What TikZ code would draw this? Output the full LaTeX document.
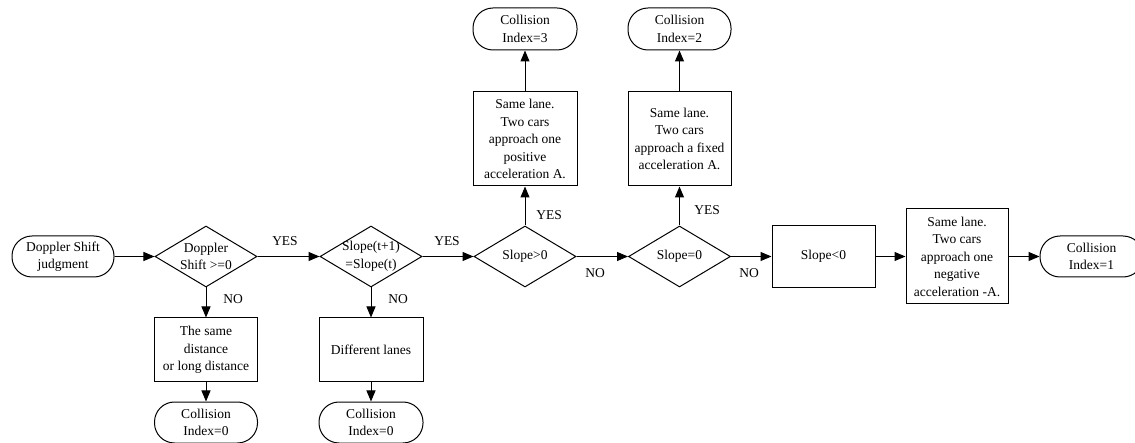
\documentclass[tikz,border=0pt]{standalone}
\usepackage{fontspec}
\setmainfont{Liberation Serif}
\usetikzlibrary{shapes.geometric,arrows.meta}
\begin{document}
\begin{tikzpicture}[x=1pt,y=-1pt,
  every node/.style={font=\fontsize{13.5}{17.5}\selectfont, align=center, inner sep=0pt},
  term/.style={draw, line width=1pt, rounded corners=20pt, minimum width=102pt, minimum height=41pt},
  procbox/.style={draw, line width=1pt, minimum width=103pt},
  decision/.style={draw, line width=1pt, diamond, minimum width=102pt, minimum height=61pt},
  conn/.style={line width=1pt, -{Triangle[length=11pt,width=9pt]}},
  lbl/.style={font=\fontsize{13.5}{15}\selectfont}
]
\useasboundingbox (0,0) rectangle (1135,443);
\clip (0,0) rectangle (1135,443);
% main row
\node[term] (start) at (63,256.5) {Doppler Shift\\judgment};
\node[decision, label={center:Doppler\\Shift >=0}] (d1) at (206,256.5) {};
\node[decision, label={center:Slope(t+1)\\=Slope(t)}] (d2) at (371,256.5) {};
\node[decision, label={center:Slope>0}] (d3) at (525,256.5) {};
\node[decision, label={center:Slope=0}] (d4) at (679.5,256.5) {};
\node[procbox, minimum height=62pt] (s0) at (823.5,256.5) {Slope<0};
\node[procbox, minimum width=102pt, minimum height=95pt] (neg) at (957,256.5) {Same lane.\\Two cars\\approach one\\negative\\acceleration -A.};
\node[term, minimum width=103pt] (t1) at (1091.5,256.5) {Collision\\Index=1};
% lower branches
\node[procbox, minimum height=64pt] (bA) at (206,350) {The same\\distance\\or long distance};
\node[term, minimum width=103pt] (t0a) at (206,422.5) {Collision\\Index=0};
\node[procbox, minimum width=104pt, minimum height=64pt] (bB) at (371,350) {Different lanes};
\node[term, minimum width=104pt] (t0b) at (371,422.5) {Collision\\Index=0};
% upper branches
\node[procbox, minimum width=104pt, minimum height=94pt] (bC) at (525,139) {Same lane.\\Two cars\\approach one\\positive\\acceleration A.};
\node[term, minimum width=104pt, minimum height=42pt] (t3) at (525,29) {Collision\\Index=3};
\node[procbox, minimum height=94pt] (bD) at (679.5,139) {Same lane.\\Two cars\\approach a fixed\\acceleration A.};
\node[term, minimum width=103pt, minimum height=42pt] (t2) at (679.5,29) {Collision\\Index=2};
% connectors
\draw[conn] (start) -- (d1);
\draw[conn] (d1) -- (d2);
\draw[conn] (d2) -- (d3);
\draw[conn] (d3) -- (d4);
\draw[conn] (d4) -- (s0);
\draw[conn] (s0) -- (neg);
\draw[conn] (neg) -- (t1);
\draw[conn] (d1) -- (bA);
\draw[conn] (bA) -- (t0a);
\draw[conn] (d2) -- (bB);
\draw[conn] (bB) -- (t0b);
\draw[conn] (d3) -- (bC);
\draw[conn] (bC) -- (t3);
\draw[conn] (d4) -- (bD);
\draw[conn] (bD) -- (t2);
% labels
\node[lbl] (y1) at (285,241) {YES};
\node[lbl] (y2) at (447,241) {YES};
\node[lbl] (y3) at (549,215) {YES};
\node[lbl] (y4) at (707,210) {YES};
\node[lbl] (n1) at (233,299) {NO};
\node[lbl] (n2) at (398,299) {NO};
\node[lbl] (n3) at (595,273) {NO};
\node[lbl] (n4) at (749,273) {NO};
\end{tikzpicture}
\end{document}
